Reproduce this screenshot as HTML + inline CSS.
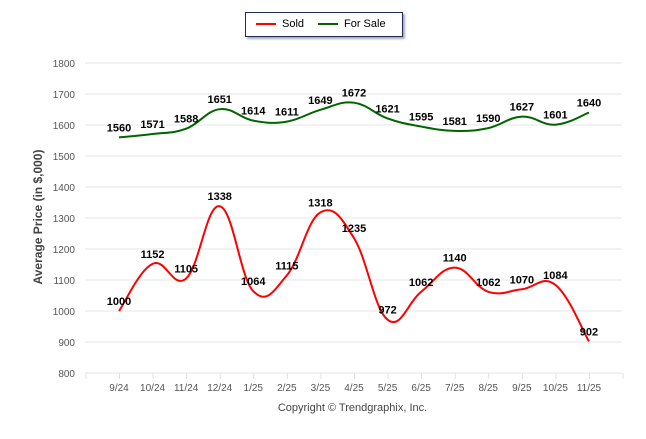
<!DOCTYPE html>
<html><head><meta charset="utf-8"><style>
body{margin:0;background:#fff;font-family:"Liberation Sans",sans-serif}
</style></head><body>
<svg id="c" width="646" height="434"></svg>
<script>
const categories=["9/24","10/24","11/24","12/24","1/25","2/25","3/25","4/25","5/25","6/25","7/25","8/25","9/25","10/25","11/25"];
const sold=[1000,1152,1105,1338,1064,1115,1318,1235,972,1062,1140,1062,1070,1084,902];
const forSale=[1560,1571,1588,1651,1614,1611,1649,1672,1621,1595,1581,1590,1627,1601,1640];
const yTicks=[800,900,1000,1100,1200,1300,1400,1500,1600,1700,1800];
const NS="http://www.w3.org/2000/svg";
const svg=document.getElementById('c');
const x=i=>119+i*33.57;
const y=v=>373-(v-800)*0.31;
function el(t,a,p){const e=document.createElementNS(NS,t);for(const k in a)e.setAttribute(k,a[k]);(p||svg).appendChild(e);return e;}
yTicks.forEach(v=>{
 const g=el('line',{x1:85,x2:622,y1:y(v),y2:y(v),stroke:'#e6e6e6','stroke-width':1});
 
 
 const t=el('text',{x:75,y:y(v)+4,'text-anchor':'end','font-size':10,fill:'#555'});t.textContent=v;
 
 
});
for(let i=-1;i<=15;i++){const tk=el('line',{x1:x(i)+0.5,x2:x(i)+0.5,y1:373,y2:379,stroke:'#e0e0e0'});
 
 }
categories.forEach((c,i)=>{const t=el('text',{x:x(i),y:391,'text-anchor':'middle','font-size':10,fill:'#555'});t.textContent=c;
 
 });
function spline(vals){
 const p=vals.map((v,i)=>[x(i),y(v)]);let d='M'+p[0][0]+','+p[0][1];const s=0.2;
 for(let i=0;i<p.length-1;i++){const p0=p[i-1]||p[i],p1=p[i],p2=p[i+1],p3=p[i+2]||p2;
  d+=` C${p1[0]+(p2[0]-p0[0])*s},${p1[1]+(p2[1]-p0[1])*s} ${p2[0]-(p3[0]-p1[0])*s},${p2[1]-(p3[1]-p1[1])*s} ${p2[0]},${p2[1]}`;}
 return d;}
[[forSale,'#006400','for-sale'],[sold,'#ff0000','sold']].forEach(([vals,col,nm])=>{
 const pth=el('path',{d:spline(vals),fill:'none',stroke:col,'stroke-width':2});
 
 
 vals.forEach((v,i)=>{const t=el('text',{x:x(i),y:y(v)-6,'text-anchor':'middle','font-size':11,'font-weight':'bold',fill:'#000'});t.textContent=v;
  
  });
});
</script>
<div style="position:absolute;left:245px;top:12px;width:158px;height:25px;border:1px solid #1f2d5a;box-shadow:2px 2px 2px #aaa;font-size:11px;box-sizing:border-box">
 <span style="position:absolute;left:10px;top:5px"><span style="display:inline-block;width:20px;height:2px;background:#f00;vertical-align:middle;margin-right:6px"></span>Sold</span>
 <span style="position:absolute;left:72px;top:5px"><span style="display:inline-block;width:20px;height:2px;background:#006400;vertical-align:middle;margin-right:6px"></span>For Sale</span>
</div>
<div style="position:absolute;left:38px;top:217px;transform:translate(-50%,-50%) rotate(-90deg);white-space:nowrap;font-size:12px;font-weight:bold;color:#444">Average Price (in $,000)</div>
<div style="position:absolute;left:0;width:705px;top:402px;text-align:center;font-size:11px;color:#444">Copyright © Trendgraphix, Inc.</div>
</body></html>
